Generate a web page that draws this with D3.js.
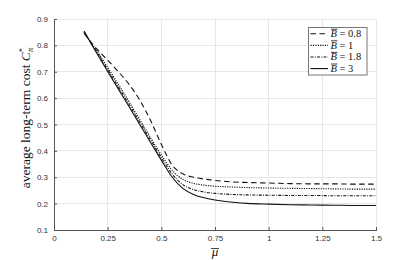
<!DOCTYPE html>
<html><head><meta charset="utf-8">
<script src="https://cdn.jsdelivr.net/npm/d3@7"></script>
<style>body{margin:0;background:#fff}</style>
</head><body><svg id="c" width="415" height="260"></svg>
<script>
const mu      = [0.14,0.17,0.2,0.25,0.3,0.35,0.4,0.45,0.5,0.55,0.6,0.65,0.7,0.75,0.8,0.9,1.0,1.1,1.2,1.3,1.4,1.5];
const costB08 = [0.846,0.814,0.786,0.744,0.700,0.652,0.592,0.515,0.425,0.347,0.313,0.300,0.293,0.288,0.284,0.280,0.278,0.276,0.275,0.275,0.274,0.274];
const costB1  = [0.850,0.813,0.779,0.716,0.652,0.586,0.518,0.450,0.385,0.327,0.292,0.277,0.270,0.266,0.264,0.261,0.259,0.258,0.257,0.256,0.255,0.255];
const costB18 = [0.852,0.812,0.774,0.708,0.642,0.576,0.508,0.441,0.375,0.313,0.272,0.253,0.244,0.239,0.236,0.233,0.232,0.231,0.231,0.230,0.230,0.230];
const costB3  = [0.854,0.811,0.769,0.701,0.634,0.567,0.499,0.432,0.365,0.301,0.258,0.235,0.222,0.214,0.208,0.201,0.198,0.196,0.195,0.194,0.193,0.193];
const seriesNames = ["0.8","1","1.8","3"];
const xTicks = [0,0.25,0.5,0.75,1,1.25,1.5];
const xTickLabels = ["0","0.25","0.5","0.75","1","1.25","1.5"];
const yTicks = [0.1,0.2,0.3,0.4,0.5,0.6,0.7,0.8,0.9];
const yTickLabels = ["0.1","0.2","0.3","0.4","0.5","0.6","0.7","0.8","0.9"];

const series = [costB08,costB1,costB18,costB3];
const dashes = ["5.5,3.5","1.2,1.2","3,1.3,0.9,1.3",null];

const svg = d3.select("#c");
const L=54,R=376,T=19,B=230;
const x = d3.scaleLinear().domain([0,1.5]).range([L,R]);
const y = d3.scaleLinear().domain([0.1,0.9]).range([B,T]);
const serif = "'Liberation Serif','Times New Roman',serif";

// grid
const g = svg.append("g");
g.selectAll(".vg").data(xTicks).join("line")
  .attr("x1",d=>x(d)).attr("x2",d=>x(d)).attr("y1",T).attr("y2",B)
  .attr("stroke","#e6e6e6").attr("stroke-width",1).attr("shape-rendering","crispEdges");
g.selectAll(".hg").data(yTicks).join("line")
  .attr("x1",L).attr("x2",R).attr("y1",d=>y(d)).attr("y2",d=>y(d))
  .attr("stroke","#e6e6e6").attr("stroke-width",1).attr("shape-rendering","crispEdges");

// axes
const xa = svg.append("g").attr("transform",`translate(0,${B})`)
  .call(d3.axisBottom(x).tickValues(xTicks).tickFormat((d,i)=>xTickLabels[i]).tickSizeInner(-3).tickSizeOuter(0).tickPadding(5));
const ya = svg.append("g").attr("transform",`translate(${L},0)`)
  .call(d3.axisLeft(y).tickValues(yTicks).tickFormat((d,i)=>yTickLabels[i]).tickSizeInner(-3).tickSizeOuter(0).tickPadding(6));
[xa,ya].forEach(a=>{
  a.selectAll("path").attr("stroke","#555").attr("shape-rendering","crispEdges");
  a.selectAll("line").attr("stroke","#555");
  a.selectAll("text").attr("fill","#333").style("font-family","'Liberation Sans',Arial,sans-serif").style("font-size","8px");
});

// lines
const line = d3.line().x((d,i)=>x(mu[i])).y(d=>y(d)).curve(d3.curveMonotoneX);
series.forEach((s,k)=>{
  svg.append("path").datum(s).attr("d",line).attr("fill","none")
    .attr("stroke","#111").attr("stroke-width",1.1)
    .attr("stroke-dasharray",dashes[k]);
});

// legend
const lg = svg.append("g");
lg.append("rect").attr("x",308.5).attr("y",27.5).attr("width",58.5).attr("height",47.5)
  .attr("fill","#fff").attr("stroke","#777").attr("stroke-width",1);
seriesNames.forEach((n,k)=>{
  const yy = 33.8 + k*11.6;
  lg.append("line").attr("x1",310.5).attr("x2",328).attr("y1",yy).attr("y2",yy)
    .attr("stroke","#111").attr("stroke-width",1.1).attr("stroke-dasharray",dashes[k]);
  const t = lg.append("text").attr("x",330.5).attr("y",yy+3.4)
    .style("font-family",serif).style("font-size","10.5px").attr("fill","#111");
  t.append("tspan").text("B").style("font-style","italic");
  t.append("tspan").text(" = "+n);
  lg.append("line").attr("x1",331).attr("x2",337.5).attr("y1",yy-4.6).attr("y2",yy-4.6)
    .attr("stroke","#111").attr("stroke-width",0.8);
});

// y label
const yl = svg.append("text").attr("transform","translate(30,118) rotate(-90)").attr("text-anchor","middle")
  .style("font-family",serif).style("font-size","13.5px").attr("fill","#111");
yl.append("tspan").text("average long-term cost ");
yl.append("tspan").text("C").style("font-style","italic");
yl.append("tspan").text("*").attr("dy",-5).style("font-size","8.5px");
yl.append("tspan").text("π").attr("dx",-4).attr("dy",8).style("font-size","8.5px").style("font-style","italic");

// x label
svg.append("text").attr("x",215).attr("y",256).attr("text-anchor","middle")
  .style("font-family",serif).style("font-size","13px").style("font-style","italic")
  .attr("fill","#111").text("μ");
svg.append("line").attr("x1",211).attr("x2",219).attr("y1",248.5).attr("y2",248.5)
  .attr("stroke","#111").attr("stroke-width",0.8);
</script></body></html>
